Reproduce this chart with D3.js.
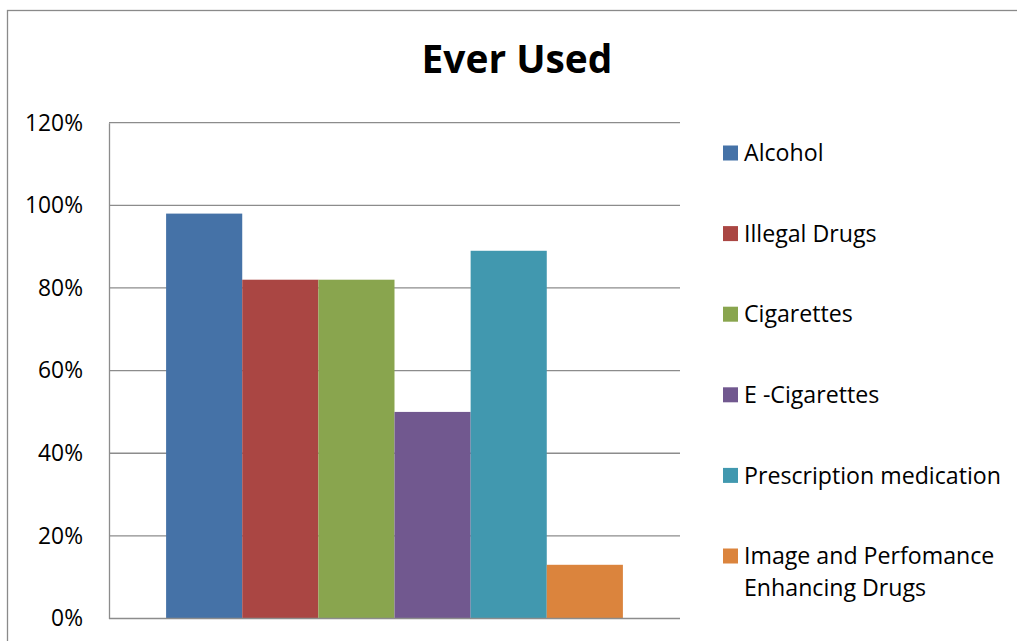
<!DOCTYPE html>
<html>
<head>
<meta charset="utf-8">
<script src="https://cdn.jsdelivr.net/npm/d3@7/dist/d3.min.js"></script>
<style>
  html, body { margin: 0; padding: 0; background: #fff; }
  svg { display: block; }
</style>
</head>
<body>
<svg id="chart" width="1017" height="641"></svg>
<script>
// ---- data ----
const title = "Ever Used";
const categories = ["Ever Used"];
const seriesNames = [
  "Alcohol",
  "Illegal Drugs",
  "Cigarettes",
  "E -Cigarettes",
  "Prescription medication",
  "Image and Perfomance Enhancing Drugs"
];
const legendLines = [
  ["Alcohol"],
  ["Illegal Drugs"],
  ["Cigarettes"],
  ["E -Cigarettes"],
  ["Prescription medication"],
  ["Image and Perfomance", "Enhancing Drugs"]
];
const values = [0.98, 0.82, 0.82, 0.50, 0.89, 0.13];
const colors = ["#4572A7", "#AA4643", "#89A54E", "#71588F", "#4198AF", "#DB843D"];
const yTicks = [0, 0.2, 0.4, 0.6, 0.8, 1.0, 1.2];

// ---- layout ----
const svg = d3.select("#chart");
const FONT = "'Open Sans', 'Noto Sans', sans-serif";
const plot = { left: 109, right: 680, top: 122.7, bottom: 618.5 };

// fit a text element's font size to a target width
function fitWidth(sel, target, base) {
  sel.attr("font-size", base);
  const w = sel.node().getComputedTextLength();
  const fs = base * target / w;
  sel.attr("font-size", fs);
  return fs;
}

// outer frame
svg.append("rect")
  .attr("x", 7.5).attr("y", 10.5)
  .attr("width", 1030).attr("height", 650)
  .attr("fill", "none").attr("stroke", "#8a8a8a").attr("stroke-width", 1.3);

const y = d3.scaleLinear().domain([0, 1.2]).range([plot.bottom, plot.top]);
const x0 = d3.scaleBand().domain(categories).range([plot.left, plot.right]).padding(0);
const x1 = d3.scaleBand().domain(seriesNames).range([0, x0.bandwidth()])
  .paddingInner(0).paddingOuter(0.75);

// gridlines
svg.append("g").selectAll("line").data(yTicks.filter(d => d > 0)).join("line")
  .attr("x1", plot.left).attr("x2", plot.right)
  .attr("y1", d => y(d)).attr("y2", d => y(d))
  .attr("stroke", "#8c8c8c").attr("stroke-width", 1.3);

// bars
const g = svg.append("g").selectAll("g").data(categories).join("g")
  .attr("transform", d => `translate(${x0(d)},0)`);
g.selectAll("rect").data(seriesNames.map((s, i) => ({ s, v: values[i], c: colors[i] })))
  .join("rect")
  .attr("x", d => x1(d.s))
  .attr("width", x1.bandwidth())
  .attr("y", d => y(d.v))
  .attr("height", d => y(0) - y(d.v))
  .attr("fill", d => d.c);

// y axis
const yAxis = d3.axisLeft(y).tickValues(yTicks).tickFormat(d3.format(".0%")).tickSize(0).tickPadding(26);
const ya = svg.append("g").attr("transform", `translate(${plot.left},0)`).call(yAxis);
ya.select(".domain").attr("stroke", "#8c8c8c").attr("stroke-width", 1.3);
ya.selectAll("text").attr("font-family", FONT).attr("fill", "#000");
const axFs = fitWidth(ya.selectAll("text").filter(d => d === 1.2), 58, 20);
ya.selectAll("text").attr("font-size", axFs);

// bottom axis line
svg.append("line")
  .attr("x1", plot.left).attr("x2", plot.right)
  .attr("y1", y(0)).attr("y2", y(0))
  .attr("stroke", "#8c8c8c").attr("stroke-width", 1.3);

// title
const tt = svg.append("text")
  .attr("x", 517).attr("y", 73)
  .attr("text-anchor", "middle")
  .attr("font-family", FONT).attr("font-weight", "bold")
  .attr("fill", "#000")
  .text(title);
fitWidth(tt, 191, 40);

// legend
const legendY = d3.scaleLinear().domain([0, 5]).range([153, 556]);
const lg = svg.append("g").selectAll("g").data(legendLines).join("g")
  .attr("transform", (d, i) => `translate(723,${legendY(i)})`);
lg.append("rect")
  .attr("x", 0).attr("y", -7.5).attr("width", 15).attr("height", 15)
  .attr("fill", (d, i) => colors[i]);
lg.each(function(lines) {
  const t = d3.select(this).append("text")
    .attr("font-family", FONT).attr("font-size", 20).attr("fill", "#000");
  lines.forEach((ln, j) => {
    t.append("tspan").attr("x", 21).attr("y", j * 32).attr("dy", "0.35em").text(ln);
  });
});
// fit legend font to reference width of the longest single-line label
const probe = svg.append("text").attr("font-family", FONT).text(legendLines[4][0]);
const lgFs = fitWidth(probe, 257, 20);
probe.remove();
lg.selectAll("text").attr("font-size", lgFs);
</script>
</body>
</html>
